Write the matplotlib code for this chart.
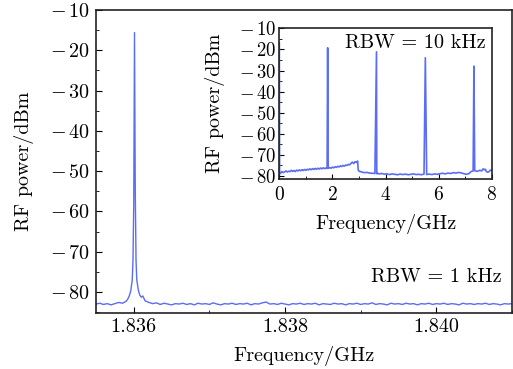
import matplotlib
matplotlib.use("Agg")
import matplotlib.pyplot as plt
from matplotlib.ticker import MultipleLocator, FuncFormatter

plt.rcParams['font.family'] = 'serif'
plt.rcParams['font.serif'] = ['cmr10']
plt.rcParams['mathtext.fontset'] = 'cm'
plt.rcParams['axes.formatter.use_mathtext'] = True
plt.rcParams['font.size'] = 14.5

blue = '#5b6cf5'

# main spectrum (GHz, dBm), RBW = 1 kHz
main_f = [1.83550, 1.83555, 1.83560, 1.83565, 1.83570, 1.83575, 1.83580, 1.83585,
          1.83590, 1.83592, 1.83594, 1.83596, 1.83598, 1.83599, 1.83600, 1.83601,
          1.83602, 1.83603, 1.83604, 1.83606, 1.83608, 1.83610, 1.83612, 1.83615,
          1.83620,
          1.83625, 1.83630, 1.83635, 1.83640, 1.83645, 1.83650, 1.83655, 1.83660,
          1.83665, 1.83670, 1.83675, 1.83680, 1.83685, 1.83690, 1.83695, 1.83700,
          1.83705, 1.83710, 1.83715, 1.83720, 1.83725, 1.83730, 1.83735, 1.83740,
          1.83745, 1.83750, 1.83755, 1.83760, 1.83765, 1.83770, 1.83775, 1.83780,
          1.83785, 1.83790, 1.83795, 1.83800, 1.83805, 1.83810, 1.83815, 1.83820,
          1.83825, 1.83830, 1.83835, 1.83840, 1.83845, 1.83850, 1.83855, 1.83860,
          1.83865, 1.83870, 1.83875, 1.83880, 1.83885, 1.83890, 1.83895, 1.83900,
          1.83905, 1.83910, 1.83915, 1.83920, 1.83925, 1.83930, 1.83935, 1.83940,
          1.83945, 1.83950, 1.83955, 1.83960, 1.83965, 1.83970, 1.83975, 1.83980,
          1.83985, 1.83990, 1.83995, 1.84000, 1.84005, 1.84010, 1.84015, 1.84020,
          1.84025, 1.84030, 1.84035, 1.84040, 1.84045, 1.84050, 1.84055, 1.84060,
          1.84065, 1.84070, 1.84075, 1.84080, 1.84085, 1.84090, 1.84095, 1.84100]
main_p = [-83.0, -82.8, -83.1, -82.9, -83.2, -82.9, -82.6, -82.8,
          -82.3, -81.8, -81.0, -79.8, -77.0, -72.0, -58.0, -15.6,
          -55.0, -72.0, -77.0, -79.5, -80.8, -81.3, -81.0, -82.2,
          -82.6,
          -82.9, -82.7, -83.1, -82.8, -83.0, -83.2, -82.9, -83.0,
          -82.8, -83.1, -82.9, -83.2, -82.8, -83.0, -82.9, -83.1,
          -82.7, -83.0, -83.2, -82.9, -83.0, -82.8, -83.1, -82.9,
          -83.0, -82.8, -83.2, -82.9, -83.0, -82.7, -82.5, -83.0,
          -82.9, -83.1, -82.8, -83.0, -83.2, -82.9, -83.0, -82.8,
          -83.1, -82.9, -83.0, -82.8, -83.2, -82.9, -83.0, -83.1,
          -82.8, -83.0, -82.9, -83.2, -82.9, -83.0, -82.8, -83.1,
          -82.9, -83.0, -82.7, -83.1, -82.9, -83.0, -83.2, -82.8,
          -83.0, -82.9, -83.1, -82.8, -83.0, -82.9, -83.2, -82.9,
          -83.0, -82.8, -83.1, -82.9, -83.0, -82.8, -83.1, -82.9,
          -83.0, -83.2, -82.8, -83.0, -82.9, -83.1, -82.9, -83.0,
          -82.8, -83.1, -82.9, -83.0, -83.2, -82.9, -83.0, -82.9]

# inset: wide span (GHz, dBm), RBW = 10 kHz
wide_f = [0.00, 0.01, 0.02, 0.05, 0.10, 0.15, 0.20, 0.25, 0.30, 0.35, 0.40, 0.45,
          0.50, 0.55, 0.60, 0.65, 0.70, 0.75, 0.80, 0.85, 0.90, 0.95, 1.00, 1.05,
          1.10, 1.15, 1.20, 1.25, 1.30, 1.35, 1.40, 1.45, 1.50, 1.55, 1.60, 1.65,
          1.70, 1.75, 1.80, 1.82, 1.84, 1.90, 1.95, 2.00, 2.05, 2.10, 2.15, 2.20,
          2.25, 2.30, 2.35, 2.40, 2.45, 2.50, 2.55, 2.60, 2.65, 2.70, 2.75, 2.80,
          2.85, 2.90, 2.95, 2.97, 3.00, 3.05, 3.10, 3.20, 3.30, 3.40, 3.50, 3.60,
          3.66, 3.67, 3.68, 3.75, 3.85, 3.95, 4.05, 4.15, 4.25, 4.35, 4.45, 4.55,
          4.65, 4.75, 4.85, 4.95, 5.05, 5.15, 5.25, 5.35, 5.45, 5.50, 5.55, 5.65,
          5.75, 5.85, 5.95, 6.05, 6.15, 6.25, 6.35, 6.45, 6.55, 6.65, 6.75, 6.85,
          6.95, 7.05, 7.15, 7.22, 7.30, 7.33, 7.36, 7.45, 7.55, 7.62, 7.68, 7.72,
          7.76, 7.80, 7.85, 7.90, 7.95, 8.00]
wide_p = [-16.8, -78.0, -79.0, -78.6, -77.9, -78.4, -78.0, -77.6, -78.1, -77.7, -77.9, -77.3,
          -77.8, -77.4, -77.9, -77.2, -77.6, -77.1, -77.5, -77.0, -77.4, -76.9, -77.3, -76.8,
          -77.1, -76.6, -77.0, -76.5, -76.9, -76.4, -76.8, -76.3, -76.7, -76.2, -76.6, -76.1,
          -76.5, -76.2, -76.4, -19.2, -76.4, -76.0, -76.3, -75.8, -76.1, -75.6, -75.9, -75.4,
          -75.7, -75.2, -75.5, -75.0, -75.3, -74.8, -75.0, -74.5, -74.7, -74.0, -73.4, -74.1,
          -73.2, -73.6, -72.9, -77.0, -77.7, -77.9, -78.1, -78.4, -78.3, -78.6, -78.7, -78.8,
          -21.1, -78.9, -78.7, -79.0, -78.8, -79.1, -79.0, -79.3, -79.0, -79.2, -79.4, -79.1,
          -79.3, -79.1, -79.4, -79.2, -79.0, -79.3, -79.2, -79.4, -79.1, -23.9, -79.3, -79.1,
          -79.3, -79.0, -79.2, -78.9, -78.7, -79.0, -78.6, -78.8, -78.4, -78.6, -78.3, -78.5,
          -78.9, -79.2, -78.8, -77.9, -77.6, -27.9, -77.5, -77.8, -77.3, -77.6, -76.6, -77.0,
          -76.8, -77.9, -78.2, -77.9, -77.2, -77.3]


def minus_fmt(v, pos):
    if v < 0:
        return r'$-\,%d$' % abs(v)
    return r'$%d$' % v


fig = plt.figure(figsize=(5.13, 3.69), dpi=100)
ax = fig.add_axes([0.187, 0.152, 0.811, 0.821])
ax.plot(main_f, main_p, color=blue, lw=1.0)
ax.set_xlim(1.8355, 1.8410)
ax.set_ylim(-85.2, -10)
ax.xaxis.set_major_locator(MultipleLocator(0.002))
ax.xaxis.set_minor_locator(MultipleLocator(0.001))
ax.xaxis.set_major_formatter(FuncFormatter(lambda v, p: '%.3f' % v))
ax.yaxis.set_major_locator(MultipleLocator(10))
ax.yaxis.set_minor_locator(MultipleLocator(5))
ax.yaxis.set_major_formatter(FuncFormatter(minus_fmt))
ax.tick_params(which='both', direction='in')
ax.tick_params(which='major', length=4, pad=4)
ax.tick_params(which='minor', length=2.5)
ax.set_xlabel('Frequency/GHz', labelpad=7)
ax.set_ylabel('RF power/dBm', labelpad=12)
for s in ax.spines.values():
    s.set_linewidth(1.2)
    s.set_color('#222222')
ax.text(0.975, 0.09, 'RBW = 1 kHz', transform=ax.transAxes, ha='right', va='bottom')

ins = fig.add_axes([0.5445, 0.515, 0.414, 0.408])
ins.plot(wide_f, wide_p, color=blue, lw=1.2)
ins.set_xlim(0, 8)
ins.set_ylim(-81.4, -10)
ins.xaxis.set_major_locator(MultipleLocator(2))
ins.xaxis.set_minor_locator(MultipleLocator(1))
ins.yaxis.set_major_locator(MultipleLocator(10))
ins.yaxis.set_minor_locator(MultipleLocator(5))
ins.yaxis.set_major_formatter(FuncFormatter(minus_fmt))
ins.tick_params(which='both', direction='in')
ins.tick_params(which='major', length=3.5)
ins.tick_params(which='minor', length=2)
ins.tick_params(axis='y', labelsize=13.5, pad=2)
ins.tick_params(axis='x', labelsize=14, pad=5)
ins.set_xlabel('Frequency/GHz', labelpad=7)
ins.set_ylabel('RF power/dBm', labelpad=10)
for s in ins.spines.values():
    s.set_linewidth(1.2)
    s.set_color('#222222')
ins.text(0.97, 0.96, 'RBW = 10 kHz', transform=ins.transAxes, ha='right', va='top')

fig.savefig('out.png', dpi=100)
